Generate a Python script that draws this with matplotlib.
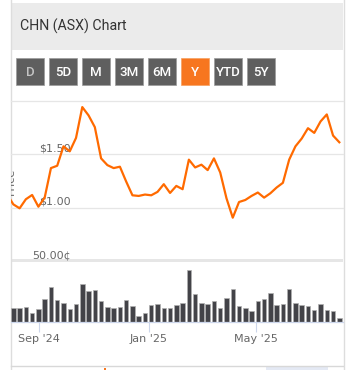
import matplotlib
matplotlib.use("Agg")
import matplotlib.pyplot as plt
import matplotlib.dates as mdates
from matplotlib.patches import Rectangle
import pandas as pd

W, H = 352, 370

# weekly closes, late Jul 2024 - Aug 2025 (first one sits just off the left edge)
dates = pd.date_range("2024-07-27", periods=54, freq="7D")
price = [1.126, 1.031, 0.994, 1.079, 1.119, 1.009, 1.094, 1.371, 1.393, 1.575,
         1.528, 1.654, 1.943, 1.865, 1.755, 1.462, 1.399, 1.371, 1.384, 1.245,
         1.116, 1.110, 1.123, 1.116, 1.148, 1.220, 1.138, 1.204, 1.173, 1.450,
         1.377, 1.403, 1.352, 1.462, 1.330, 1.088, 0.906, 1.053, 1.072, 1.110,
         1.142, 1.094, 1.135, 1.189, 1.233, 1.450, 1.575, 1.648, 1.745, 1.701,
         1.808, 1.874, 1.676, 1.613]
# weekly volume (relative), from the second week on
volume = [42, 42, 45, 28, 38, 68, 104, 65, 58, 38,
          55, 115, 92, 95, 62, 45, 43, 45, 65, 48,
          19, 28, 52, 55, 42, 42, 52, 58, 155, 85,
          58, 55, 62, 42, 72, 100, 48, 42, 32, 62,
          68, 88, 52, 55, 100, 58, 52, 48, 35, 55,
          35, 32, 12]

ranges = ["D", "5D", "M", "3M", "6M", "Y", "YTD", "5Y"]
selected = "Y"
price_ticks = [0.5, 1.0, 1.5, 2.0]
price_labels = ["50.00¢", "$1.00", "$1.50", ""]
date_ticks = pd.to_datetime(["2024-09-01", "2025-01-01", "2025-05-01"])
date_labels = ["Sep '24", "Jan '25", "May '25"]

fig = plt.figure(figsize=(W / 100, H / 100), dpi=100)


def box(x0, y0, x1, y1):
    # pixel box measured from top-left -> figure rect
    return [x0 / W, 1 - y1 / H, (x1 - x0) / W, (y1 - y0) / H]


# background: header, buttons, borders
bg = fig.add_axes([0, 0, 1, 1])
bg.set_xlim(0, W)
bg.set_ylim(H, 0)
bg.axis("off")
bg.add_patch(Rectangle((11, 3), 332, 47, color="#ebebeb", lw=0))
bg.text(20, 26.5, "CHN (ASX) Chart", family="Roboto", fontsize=10.2,
        color="#333333", va="center", ha="left")
for i, r in enumerate(ranges):
    x0 = 16.3 + i * 33
    fc = "#f7761f" if r == selected else "#5f5f5f"
    bg.add_patch(Rectangle((x0, 57.7), 27.4, 27.3, facecolor=fc,
                           edgecolor="#9a9a9a" if r != selected else "#f7a060", lw=0.5))
    tc = "#c4c4c4" if r == "D" else "white"
    bg.text(x0 + 13.7, 72, r, family="Roboto", fontsize=9.5, weight="medium",
            color=tc, ha="center", va="center")
bg.add_patch(Rectangle((11, 259), 332, 3, color="#e6e6e6", lw=0))
bg.plot([10.5, 10.5], [0, H], color="#dddddd", lw=1)
bg.plot([343.5, 343.5], [0, H], color="#dddddd", lw=1)
bg.plot([11, 343], [366, 366], color="#d8d8d8", lw=1)
bg.add_patch(Rectangle((266, 367), 62, 3, color="#e4e9f4", lw=0))
bg.add_patch(Rectangle((104, 367.5), 2, 2.5, color="#f7761f", lw=0))

x_left = mdates.date2num(dates[1]) - 2.6
x_right = mdates.date2num(dates[-1]) + 4.1

# price panel
ax = fig.add_axes(box(11, 101, 343, 261))
ax.patch.set_visible(False)
for s in ax.spines.values():
    s.set_visible(False)
for v in price_ticks[1:]:
    ax.axhline(v, color="#e6e6e6", lw=0.9, zorder=0, clip_on=False)
ax.plot(dates, price, color="#ff6a00", lw=1.6, solid_joinstyle="round", zorder=3)
ax.set_xlim(x_left, x_right)
ax.set_ylim(0.5, 2.0)
ax.set_xticks([])
ax.set_yticks([])
for v, lab in zip(price_ticks, price_labels):
    ax.text(0.181, v + 0.027, lab, transform=ax.get_yaxis_transform(),
            ha="right", va="baseline", fontsize=8, color="#666666", zorder=2)
ax.text(0.0, 1.25, "Price", transform=ax.get_yaxis_transform(), rotation=90,
        ha="center", va="center", fontsize=8, color="#666666", clip_on=True)

# volume panel
vx = fig.add_axes(box(11, 262, 343, 322))
vx.patch.set_visible(False)
vx.bar(dates[1:], volume, width=5.0, color="#434348", edgecolor="#b0b0b0", lw=0.5)
vx.set_xlim(x_left, x_right)
vx.set_ylim(0, 180)
vx.set_yticks([])
for k in ["top", "left", "right"]:
    vx.spines[k].set_visible(False)
vx.spines["bottom"].set_color("#ccd6eb")
vx.spines["bottom"].set_linewidth(0.9)
vx.set_xticks(mdates.date2num(date_ticks))
vx.set_xticklabels(date_labels, fontsize=8, color="#666666")
vx.tick_params(axis="x", length=7.5, width=0.8, color="#ccd6eb", pad=1)

fig.savefig("out.png", dpi=100)
